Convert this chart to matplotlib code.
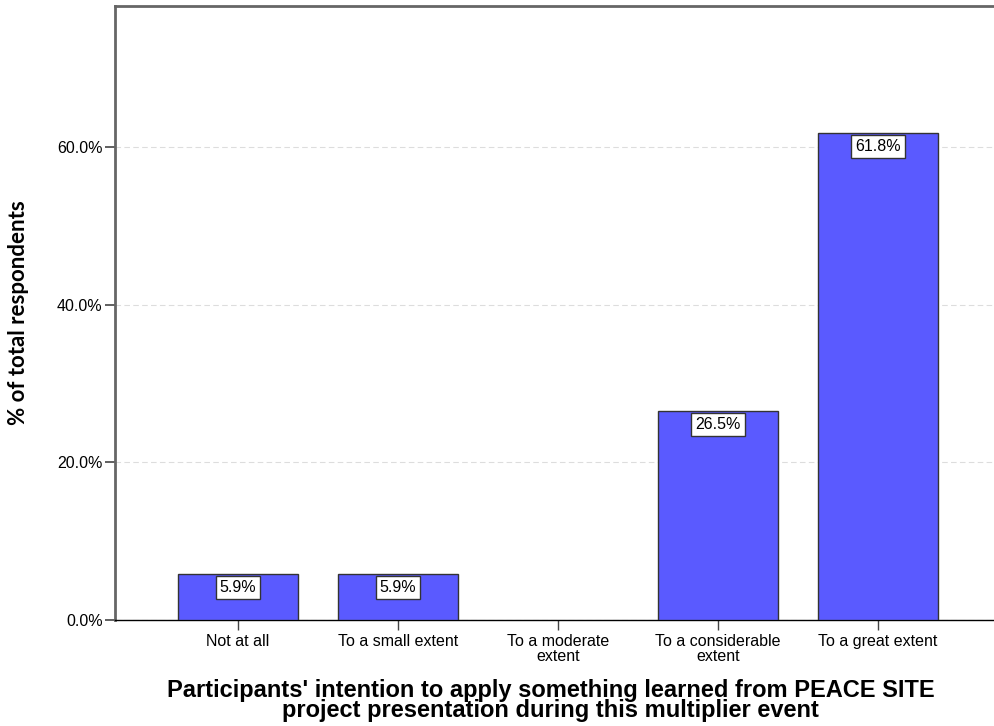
import matplotlib
matplotlib.use('agg')
import matplotlib.pyplot as plt

# data
categories = ['Not at all', 'To a small extent', 'To a moderate\nextent',
              'To a considerable\nextent', 'To a great extent']
values = [5.9, 5.9, 0.0, 26.5, 61.8]
yticks = [0, 20, 40, 60]
ytick_labels = ['0.0%', '20.0%', '40.0%', '60.0%']

plt.rcParams['font.family'] = ['Liberation Sans', 'DejaVu Sans']

fig = plt.figure(figsize=(9.94, 7.26), dpi=100)
ax = fig.add_axes([0.1157, 0.146, 0.8913, 0.8457])

x = range(len(categories))
edges = ['#333333' if v > 0 else 'none' for v in values]
bars = ax.bar(x, values, width=0.75, color='#5a5aff', edgecolor=edges,
              linewidth=1.0, zorder=3)

# value boxes hanging from the top of each bar
for xi, v in zip(x, values):
    if v == 0:
        continue
    ax.annotate('{:.1f}%'.format(v), xy=(xi, v), xytext=(0, -4.5),
                textcoords='offset points', ha='center', va='top',
                fontsize=11.5, color='black', zorder=5,
                bbox=dict(boxstyle='square,pad=0.25', fc='white',
                          ec='#333333', lw=1.0))

ax.set_xlim(-0.769, 4.769)
ax.set_ylim(0, 77.9)
ax.set_xticks(list(x))
ax.set_xticklabels(categories, fontsize=11.5, linespacing=1.05)
ax.set_yticks(yticks)
ax.set_yticklabels(ytick_labels, fontsize=11.5)

ax.yaxis.grid(True, linestyle=(0, (5, 3)), color='#dddddd', linewidth=0.8, zorder=0)
ax.set_axisbelow(True)

ax.tick_params(axis='y', length=7, width=1.2, color='#444444', pad=2)
ax.tick_params(axis='x', length=7, width=1.0, color='#444444', pad=3)

for side in ['left', 'top']:
    ax.spines[side].set_color('#666666')
    ax.spines[side].set_linewidth(2.0)
ax.spines['bottom'].set_color('black')
ax.spines['bottom'].set_linewidth(1.0)
ax.spines['right'].set_visible(False)

ax.set_ylabel('% of total respondents', fontsize=16, fontweight='bold',
              family=['Lato', 'DejaVu Sans'])
ax.yaxis.set_label_coords(-0.097, 0.5)
ax.set_xlabel("Participants' intention to apply something learned from PEACE SITE\n"
              "project presentation during this multiplier event",
              fontsize=17, fontweight='bold', linespacing=0.82)
ax.xaxis.set_label_coords(0.492, -0.096)
ax.xaxis.label.set_va('top')

plt.savefig('out.png', dpi=100)
